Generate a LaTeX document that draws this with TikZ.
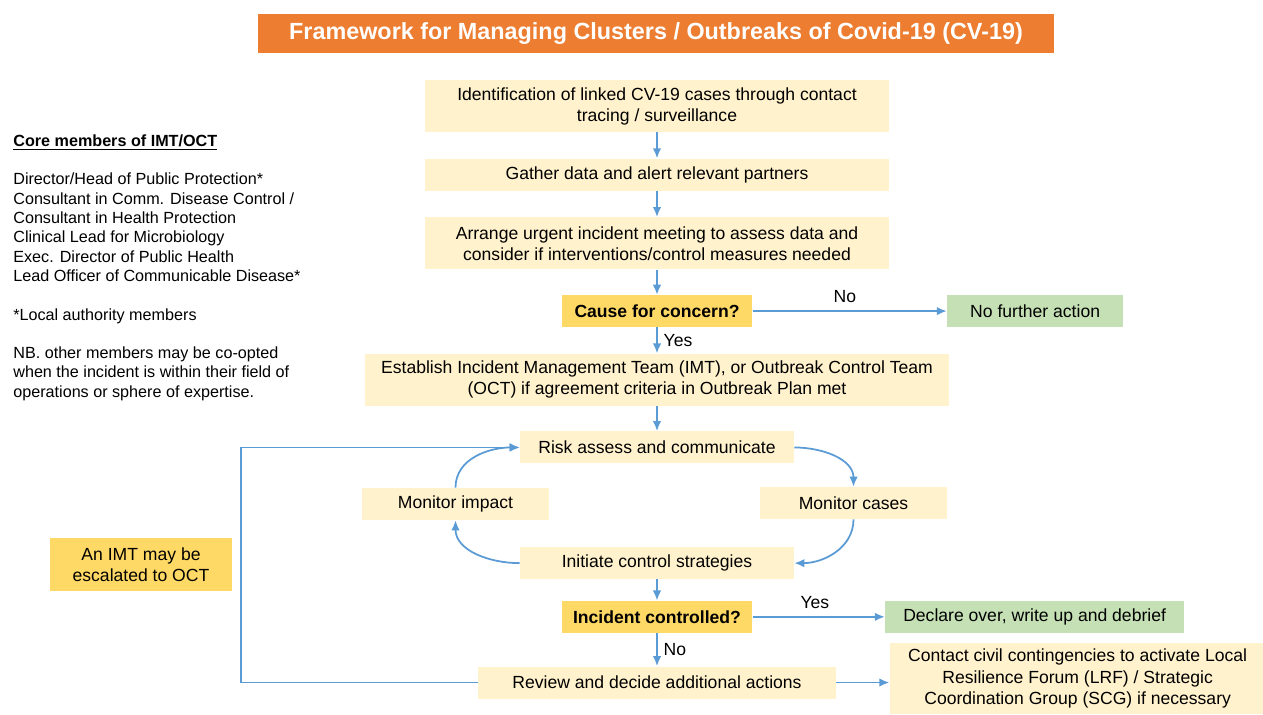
\documentclass[tikz,border=0pt]{standalone}
\usepackage{fontspec}
\setmainfont{Liberation Sans}
\usetikzlibrary{arrows.meta, positioning}

\definecolor{titleorange}{HTML}{ED7D31}
\definecolor{boxcream}{HTML}{FFF2CC}
\definecolor{querygold}{HTML}{FFD966}
\definecolor{endgreen}{HTML}{C5E0B4}
\definecolor{linkblue}{HTML}{5B9BD5}

\begin{document}
\begin{tikzpicture}[
        x=0.02cm, y=-0.02cm,
        node distance=0.52cm,
        >={Latex[length=2mm,width=1.7mm]},
        every node/.style={font=\fontsize{10}{12}\selectfont},
        titlebox/.style={rectangle, fill=titleorange, text=white, minimum width=15.92cm, minimum height=0.78cm, font=\fontsize{13.3}{15}\selectfont\bfseries},
        stepbox/.style={rectangle, fill=boxcream, align=center, minimum height=0.64cm},
        query/.style={rectangle, fill=querygold, align=center, minimum width=3.82cm, minimum height=0.64cm, font=\fontsize{10}{12}\selectfont\bfseries},
        endbox/.style={rectangle, fill=endgreen, align=center, minimum height=0.64cm},
        note/.style={align=left, anchor=north west, inner sep=0pt, font=\fontsize{9.2}{11}\selectfont},
        arrow/.style={->, draw=linkblue, line width=1pt}
    ]
        \useasboundingbox (0,0) rectangle (1263,714);

        \node[titlebox] (title) at (656,33.5) {Framework for Managing Clusters / Outbreaks of Covid-19 (CV-19)};

        % main column
        \node[stepbox, minimum width=9.28cm, minimum height=1.04cm] (ident) at (657,106) {Identification of linked CV-19 cases through contact\\tracing / surveillance};
        \node[stepbox, minimum width=9.28cm, below=of ident] (gather) {Gather data and alert relevant partners};
        \node[stepbox, minimum width=9.28cm, minimum height=1.04cm, below=of gather] (arrange) {Arrange urgent incident meeting to assess data and\\consider if interventions/control measures needed};
        \node[query, below=0.5cm of arrange] (concern) {Cause for concern?};
        \node[endbox, minimum width=3.52cm, right=3.88cm of concern] (nofurther) {No further action};
        \node[stepbox, minimum width=11.7cm, minimum height=1.04cm, below=of concern] (establish) {Establish Incident Management Team (IMT), or Outbreak Control Team\\(OCT) if agreement criteria in Outbreak Plan met};
        \node[stepbox, minimum width=5.48cm, below=0.5cm of establish] (risk) {Risk assess and communicate};
        \node[stepbox, minimum width=3.74cm] (mimpact) at (455.5,504) {Monitor impact};
        \node[stepbox, minimum width=3.74cm] (mcases) at (853.5,503) {Monitor cases};
        \node[stepbox, minimum width=5.48cm, below=1.66cm of risk] (initiate) {Initiate control strategies};
        \node[query, below=0.42cm of initiate] (controlled) {Incident controlled?};
        \node[endbox, minimum width=5.98cm, right=2.64cm of controlled] (declare) {Declare over, write up and debrief};
        \node[stepbox, minimum width=7.16cm, below=0.66cm of controlled] (review) {Review and decide additional actions};
        \node[stepbox, minimum width=7.52cm, minimum height=1.36cm, right=1.06cm of review, yshift=0.08cm] (contact) {Contact civil contingencies to activate Local\\Resilience Forum (LRF) / Strategic\\Coordination Group (SCG) if necessary};

        % left side
        \node[query, font=\fontsize{10}{12}\selectfont, minimum width=3.64cm, minimum height=1.06cm] (escalate) at (141,564.5) {An IMT may be\\escalated to OCT};
        \node[note] (members) at (13,134) {\textbf{\underline{Core members of IMT/OCT}}\\[11pt]
            Director/Head of Public Protection*\\
            Consultant in Comm. Disease Control /\\
            Consultant in Health Protection\\
            Clinical Lead for Microbiology\\
            Exec. Director of Public Health\\
            Lead Officer of Communicable Disease*\\[11pt]
            *Local authority members\\[11pt]
            NB. other members may be co-opted\\
            when the incident is within their field of\\
            operations or sphere of expertise.};
        \coordinate (backline) at (241,0);

        \draw[arrow] (ident) -- (gather);
        \draw[arrow] (gather) -- (arrange);
        \draw[arrow] (arrange) -- (concern);
        \draw[arrow] (concern) -- node[above, yshift=1pt, xshift=-0.1cm]{No} (nofurther);
        \draw[arrow] (concern) -- node[right]{Yes} (establish);
        \draw[arrow] (establish) -- (risk);

        \draw[arrow] (risk.east) to[out=0, in=90] (mcases.north);
        \draw[arrow] (mcases.south) to[out=-90, in=0] (initiate.east);
        \draw[arrow] (initiate.west) to[out=180, in=-90] (mimpact.south);
        \draw[arrow] (mimpact.north) to[out=90, in=180] (risk.west);

        \draw[arrow] (initiate) -- (controlled);
        \draw[arrow] (controlled) -- node[above, yshift=1pt, xshift=-0.08cm]{Yes} (declare);
        \draw[arrow] (controlled) -- node[right]{No} (review);
        \draw[arrow] (review) -- (review -| contact.west);
        \draw[arrow] (review.west) -- (review.west -| backline) |- (risk.west);
    \end{tikzpicture}
\end{document}
